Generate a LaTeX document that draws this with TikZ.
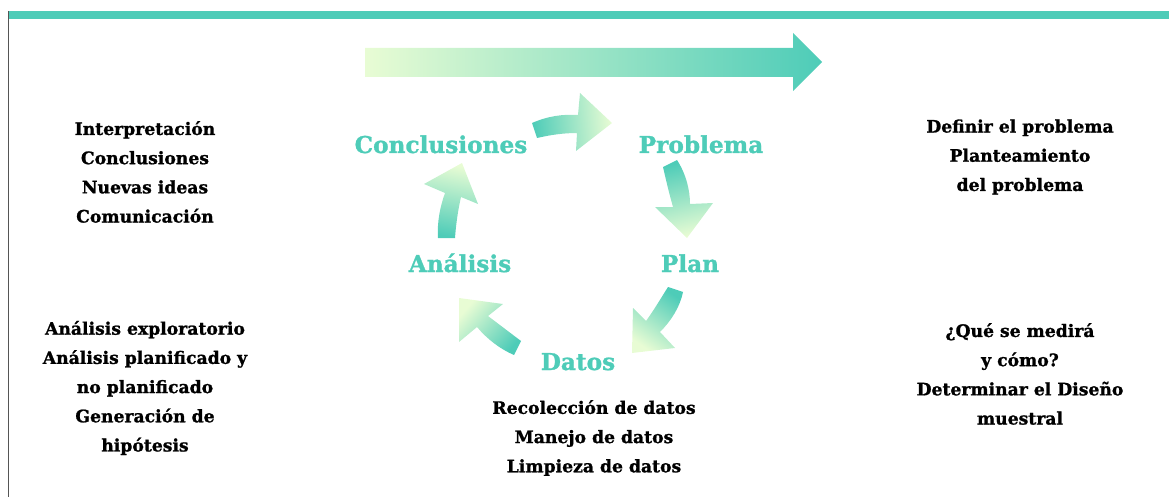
\documentclass[tikz,border=0pt]{standalone}
\usepackage{fontspec}
\setmainfont{DejaVu Serif}[BoldFeatures={FakeBold=1.2}]
\definecolor{tealc}{RGB}{78,204,184}
\definecolor{litec}{RGB}{232,252,212}
\definecolor{edgegray}{RGB}{85,85,85}
\tikzset{
  blabel/.style={font=\fontsize{23.2}{27}\selectfont\bfseries, text=tealc, inner sep=0pt, anchor=base},
  btext/.style={font=\fontsize{17.2}{29.2}\selectfont\bfseries, align=center, inner sep=0pt, text=black},
  cyc/.style={top color=litec, bottom color=tealc, draw=none}
}
\begin{document}
\begin{tikzpicture}[x=1pt,y=-1pt]
\useasboundingbox (0,0) rectangle (1169,497);
% frame
\fill[tealc] (8,11) rectangle (1169,19);
\draw[edgegray, line width=1.5pt] (8.5,11) -- (8.5,497);
% big arrow
\path[top color=tealc, bottom color=litec, shading angle=-90]
  (365,48) -- (793,48) -- (793,33) -- (822,62) -- (793,91) -- (793,77) -- (365,77) -- cycle;
% labels
\node[blabel] (conc) at (441,153) {Conclusiones};
\node[blabel] (prob) at (701,153) {Problema};
\node[blabel] (plan) at (690,272) {Plan};
\node[blabel] (anal) at (460,272) {Análisis};
\node[blabel] (datos) at (578,370) {Datos};
% cycle arrows
\path[cyc, shading angle=-85]
  (532,123) .. controls (548,116) and (563,114) .. (578,115) -- (580,93) -- (612,123)
  -- (576,151) -- (577,133) .. controls (563,133) and (550,135) .. (537,138) -- cycle;
\path[cyc, shading angle=-167]
  (663,167) -- (677,160) .. controls (686,174) and (690,190) .. (690,204) -- (713,203)
  -- (687,238) -- (655,207) -- (673,207) .. controls (669,193) and (666,180) .. (663,167) -- cycle;
\path[cyc, shading angle=145]
  (668,287) -- (683,292) .. controls (680,307) and (671,321) .. (660,332) -- (675,348)
  -- (632,353) -- (633,308) -- (646,321) .. controls (654,310) and (661,298) .. (668,287) -- cycle;
\path[cyc, shading angle=49]
  (514,355) -- (521,341) -- (488,316) -- (503,304) -- (459,298) -- (459,342) -- (477,327)
  .. controls (487,339) and (500,349) .. (514,355) -- cycle;
\path[cyc, shading angle=-11]
  (438,238) -- (455,238) .. controls (456,224) and (458,210) .. (461,197) -- (478,204) -- (462,163)
  -- (424,184) -- (445,193) .. controls (440,207) and (437,222) .. (438,238) -- cycle;
% texts
\node[btext] (tl) at (145,172) {Interpretación\\Conclusiones\\Nuevas ideas\\Comunicación};
\node[btext] (bl) at (145,388) {Análisis exploratorio\\Análisis planificado y\\no planificado\\Generación de\\hipótesis};
\node[btext] (tr) at (1020,157) {Definir el problema\\Planteamiento\\del problema};
\node[btext] (br) at (1020,374) {¿Qué se medirá\\y cómo?\\Determinar el Diseño\\muestral};
\node[btext] (bot) at (594,438) {Recolección de datos\\Manejo de datos\\Limpieza de datos};
\end{tikzpicture}
\end{document}
